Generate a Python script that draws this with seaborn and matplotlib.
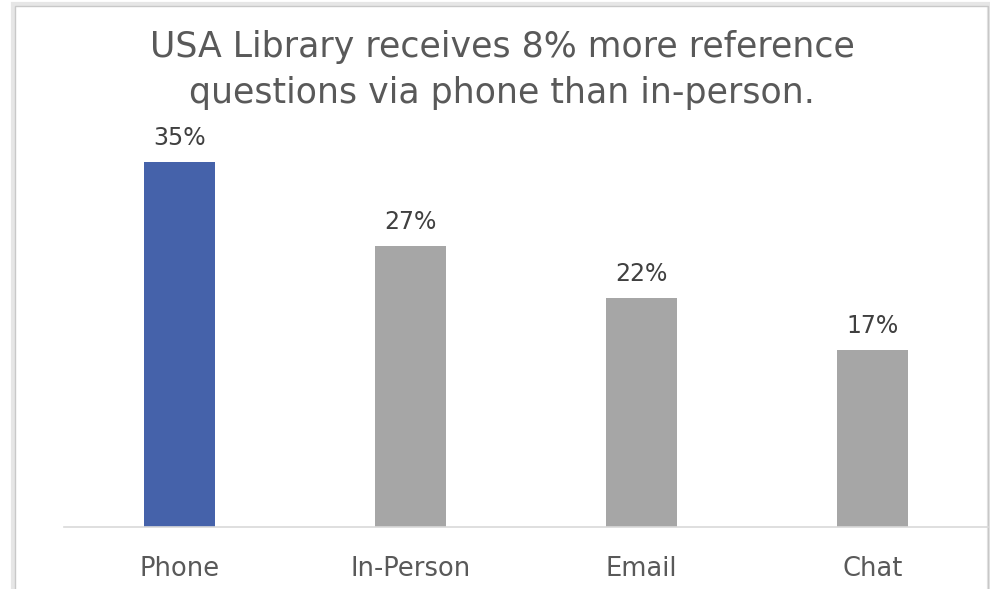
import matplotlib
matplotlib.use('Agg')
import matplotlib.pyplot as plt
import seaborn as sns
import pandas as pd
from matplotlib.patches import Rectangle

# data
channels = ['Phone', 'In-Person', 'Email', 'Chat']
shares = [35, 27, 22, 17]
labels = ['35%', '27%', '22%', '17%']

colors = {'Phone': '#4562AA', 'In-Person': '#A6A6A6', 'Email': '#A6A6A6', 'Chat': '#A6A6A6'}
text_col = '#595959'

df = pd.DataFrame({'channel': channels, 'share': shares})

sns.set_style('white')
plt.rcParams['font.family'] = ['DejaVu Sans']

fig = plt.figure(figsize=(9.9, 5.89), dpi=100)
W, H = 990, 589

# card frame with light shadow
fig.patches.append(Rectangle((13 / W, -0.05), 976 / W, 1 - 4 / H + 0.05, transform=fig.transFigure,
                             facecolor='none', edgecolor='#E6E6E6', linewidth=3, zorder=-2))
fig.patches.append(Rectangle((15 / W, -0.05), 973 / W, 1 - 6 / H + 0.05, transform=fig.transFigure,
                             facecolor='none', edgecolor='#C8C8C8', linewidth=1, zorder=-1))

ax = fig.add_axes([64 / W, 1 - 527 / H, 924 / W, 396 / H])
ax.patch.set_alpha(0)
sns.barplot(data=df, x='channel', y='share', hue='channel', palette=colors,
            width=0.305, legend=False, ax=ax, saturation=1, linewidth=0)

ax.set_ylim(0, 38)
ax.set_xlim(-0.5, 3.5)
for i, (v, lab) in enumerate(zip(shares, labels)):
    ax.text(i, v + 1.15, lab, ha='center', va='bottom', fontsize=17, color='#404040')

sns.despine(ax=ax, left=True)
ax.spines['bottom'].set_color('#D9D9D9')
ax.spines['bottom'].set_linewidth(1.2)
ax.set_yticks([])
ax.set_xlabel('')
ax.set_ylabel('')
ax.tick_params(axis='x', length=0, labelsize=18.5, labelcolor=text_col, pad=21)

fig.text(502 / W, 1 - 47 / H, 'USA Library receives 8% more reference', ha='center', va='center',
         fontsize=25, color=text_col)
fig.text(502 / W, 1 - 93 / H, 'questions via phone than in-person.', ha='center', va='center',
         fontsize=25, color=text_col)

fig.savefig('out.png', dpi=100)
